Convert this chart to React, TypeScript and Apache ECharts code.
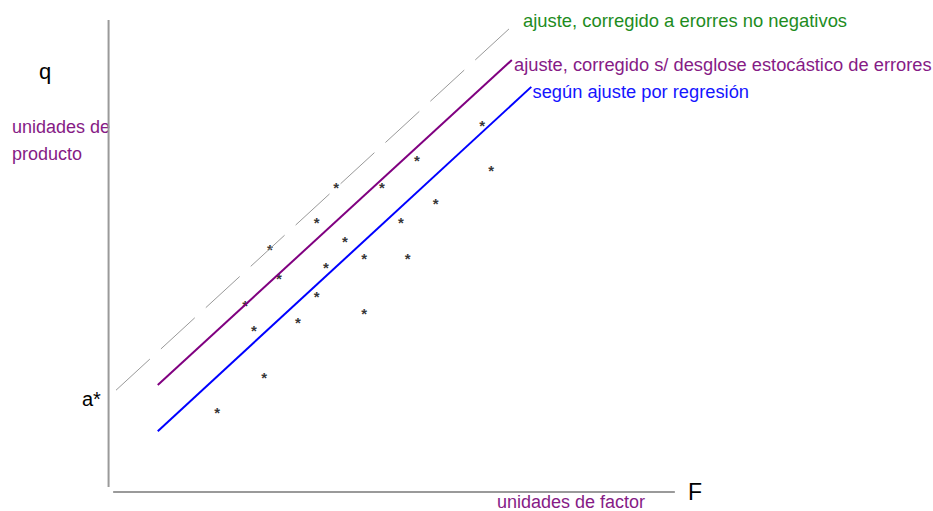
import React, { useEffect, useRef } from "react";
import * as echarts from "echarts";

// Data in chart units (F: factor units 0..100, q: product units 0..100)
const scatterPoints: [number, number][] = [
  [54.0, 70.5], [67.0, 68.4], [39.9, 64.8], [47.9, 64.8], [57.3, 61.4],
  [36.5, 57.5], [51.2, 57.5], [41.4, 53.5], [28.3, 51.6], [44.8, 49.7],
  [52.4, 49.7], [38.1, 47.8], [29.9, 45.6], [36.5, 41.8], [24.0, 39.9],
  [44.8, 38.2], [33.2, 36.1], [25.5, 34.4], [27.3, 24.6], [19.1, 17.0],
  [65.4, 78.1],
];
const lineNonNegative: [number, number][] = [[1.4, 21.4], [70.1, 98.1]];
const lineStochastic: [number, number][] = [[8.7, 22.5], [70.6, 91.5]];
const lineRegression: [number, number][] = [[8.7, 12.7], [74.0, 85.8]];
const axisVertical: [number, number][] = [[0.1, 0.85], [0.1, 100]];
const axisHorizontal: [number, number][] = [[0.9, -0.2], [99.1, -0.2]];

const FONT = "'Liberation Sans', Arial, sans-serif";
const PURPLE_TEXT = "#861b86";

export default function App() {
  const ref = useRef<HTMLDivElement>(null);
  useEffect(() => {
    if (!ref.current) return;
    const chart = echarts.init(ref.current, null, { renderer: "svg" });
    const txt = (text: string, x: number, y: number, size: number, color: string) => ({
      type: "text",
      x,
      y,
      style: { text, fill: color, font: `${size}px ${FONT}`, verticalAlign: "middle", align: "left" },
    });
    chart.setOption({
      animation: false,
      backgroundColor: "#ffffff",
      grid: { left: 108, top: 20, width: 572, height: 471, containLabel: false },
      xAxis: { type: "value", min: 0, max: 100, show: false },
      yAxis: { type: "value", min: 0, max: 100, show: false },
      series: [
        {
          type: "line", data: axisVertical, symbol: "none", clip: false,
          lineStyle: { color: "#9a9a9a", width: 2 },
        },
        {
          type: "line", data: axisHorizontal, symbol: "none", clip: false,
          lineStyle: { color: "#9a9a9a", width: 2 },
        },
        {
          type: "line", data: lineNonNegative, symbol: "none", clip: false,
          lineStyle: { color: "#999999", width: 1, type: [46, 15] },
        },
        {
          type: "line", data: lineStochastic, symbol: "none", clip: false,
          lineStyle: { color: "#800080", width: 2 },
        },
        {
          type: "line", data: lineRegression, symbol: "none", clip: false,
          lineStyle: { color: "#0000ff", width: 2 },
        },
        {
          type: "scatter", data: scatterPoints, symbolSize: 0.1, clip: false,
          itemStyle: { color: "rgba(0,0,0,0)" },
          label: {
            show: true, formatter: "*", position: "inside", offset: [0, 2],
            fontSize: 15, fontWeight: "bold", color: "#000000", fontFamily: FONT,
            textBorderWidth: 0, textBorderColor: "transparent",
          },
        },
      ],
      graphic: [
        txt("q", 39, 71, 22, "#000"),
        txt("unidades de", 12, 127, 18, PURPLE_TEXT),
        txt("producto", 12, 154, 18, PURPLE_TEXT),
        txt("a*", 82, 399, 20, "#000"),
        txt("F", 688, 492, 23, "#000"),
        txt("unidades de factor", 497, 502, 18, PURPLE_TEXT),
        txt("ajuste, corregido a erorres no negativos", 523, 20.5, 18.4, "#1e8c1e"),
        txt("ajuste, corregido s/ desglose estocástico de errores", 514, 64, 18.3, PURPLE_TEXT),
        txt("según ajuste por regresión", 532.5, 91, 18.3, "#1515ff"),
      ],
    });
    return () => chart.dispose();
  }, []);
  return (
    <div
      ref={ref}
      style={{ position: "fixed", left: 0, top: 0, width: 933, height: 511, background: "#fff" }}
    />
  );
}
